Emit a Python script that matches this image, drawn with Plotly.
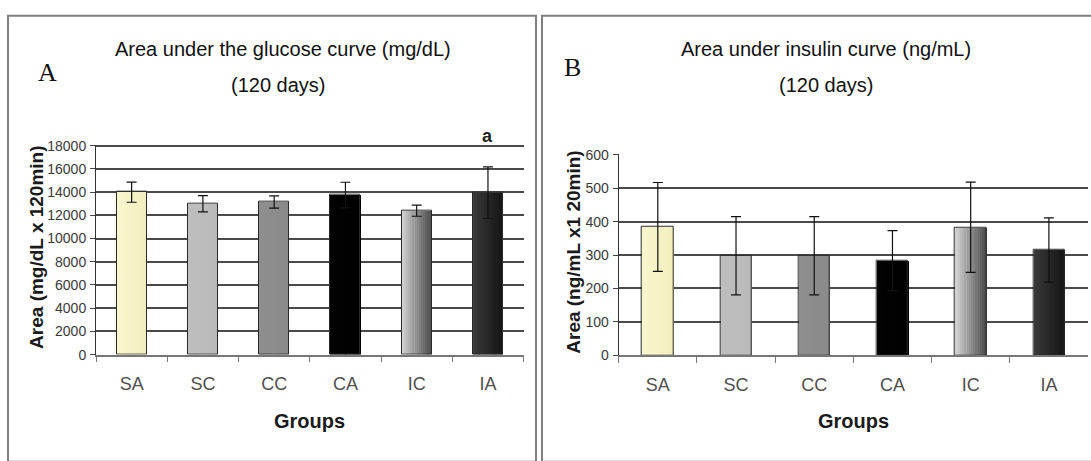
import plotly.graph_objects as go

# ---------------- data ----------------
groups = ["SA", "SC", "CC", "CA", "IC", "IA"]

glucose_auc = [14000, 13000, 13150, 13750, 12400, 13950]
glucose_err = [870, 700, 520, 1100, 480, 2220]

insulin_auc = [384, 298, 298, 283, 383, 315]
insulin_err = [133, 117, 117, 90, 135, 96]

glucose_ticks = [0, 2000, 4000, 6000, 8000, 10000, 12000, 14000, 16000, 18000]
glucose_ticktext = ["0", "2000", "4000", "6000", "8000", "10000", "12000", "14000", "16000", "18000"]
insulin_ticks = [0, 100, 200, 300, 400, 500, 600]
insulin_ticktext = ["0", "100", "200", "300", "400", "500", "600"]

# left / right colour of each bar (horizontal shading)
bar_left = ["#F8F6CE", "#BEBEBE", "#8E8E8E", "#030303", "#D4D4D4", "#3A3A3A"]
bar_right = ["#F2EFBE", "#BABABA", "#8A8A8A", "#000000", "#4A4A4A", "#141414"]

W, H = 1091, 461


def px_x(p):
    return p / W


def px_y(p):
    return 1 - p / H


def mix(c1, c2, t):
    a = [int(c1[i:i + 2], 16) for i in (1, 3, 5)]
    b = [int(c2[i:i + 2], 16) for i in (1, 3, 5)]
    return "#%02x%02x%02x" % tuple(round(a[k] + (b[k] - a[k]) * t) for k in range(3))


fig = go.Figure()

N = 14


def add_panel(values, errors, xa, ya, bw):
    for i in range(N):
        t = (i + 0.5) / N
        fig.add_trace(go.Bar(
            x=groups, y=values, xaxis=xa, yaxis=ya,
            width=bw / N * 1.08, offset=-bw / 2 + i * bw / N,
            marker=dict(color=[mix(l, r, t) for l, r in zip(bar_left, bar_right)],
                        line=dict(width=0)),
            showlegend=False, hoverinfo="skip"))
    fig.add_trace(go.Bar(
        x=groups, y=values, xaxis=xa, yaxis=ya,
        width=bw, offset=-bw / 2,
        marker=dict(color="rgba(0,0,0,0)", line=dict(color="#2a2a2a", width=1)),
        error_y=dict(type="data", array=errors, visible=True,
                     color="#111111", thickness=1.2, width=5),
        showlegend=False))


add_panel(glucose_auc, glucose_err, "x", "y", 0.42)
add_panel(insulin_auc, insulin_err, "x2", "y2", 0.40)

grid = "#4a4a4a"
tickfont_y = dict(family="Liberation Sans, Arial", size=14, color="#3a3a3a")
tickfont_x = dict(family="Liberation Sans, Arial", size=18, color="#505050")

common_x = dict(type="category", showgrid=False, showline=True, linecolor="#777777",
                linewidth=1.5, ticks="outside", tickson="boundaries", ticklen=6,
                tickcolor="#777777", tickfont=tickfont_x, ticklabelstandoff=12,
                zeroline=False)
common_y = dict(showgrid=True, gridcolor=grid, gridwidth=1.5, showline=True,
                linecolor="#333333", linewidth=1, ticks="outside", ticklen=5,
                tickcolor="#444444", tickfont=tickfont_y, zeroline=False,
                tickmode="array", ticklabelstandoff=1)

fig.update_layout(
    width=W, height=H, margin=dict(l=0, r=0, t=0, b=0),
    paper_bgcolor="white", plot_bgcolor="white",
    barmode="overlay", bargap=0,
    xaxis=dict(domain=[px_x(96), px_x(523.6)], anchor="y", **common_x),
    yaxis=dict(domain=[px_y(359.3), px_y(142.3)], anchor="x",
               range=[0, glucose_ticks[-1] * 1.005],
               tickvals=glucose_ticks, ticktext=glucose_ticktext, **common_y),
    xaxis2=dict(domain=[px_x(618.7), px_x(1088)], anchor="y2", **common_x),
    yaxis2=dict(domain=[px_y(360), px_y(151.7)], anchor="x2",
                range=[0, insulin_ticks[-1] * 1.005],
                tickvals=insulin_ticks, ticktext=insulin_ticktext, **common_y),
)

# panel frames
fig.add_shape(type="rect", xref="paper", yref="paper",
              x0=px_x(8), x1=px_x(536), y0=px_y(470), y1=px_y(9),
              line=dict(color="#808080", width=2), layer="below")
fig.add_shape(type="rect", xref="paper", yref="paper",
              x0=px_x(542), x1=px_x(1100), y0=px_y(470), y1=px_y(9),
              line=dict(color="#808080", width=2), layer="below")

title_font = dict(family="Liberation Sans, Arial", size=20, color="#111111")
bold_font = dict(family="Liberation Sans, Arial", size=20, color="#1a1a1a")
ytitle_font = dict(family="Liberation Sans, Arial", size=19, color="#1a1a1a")


def ann(text, x, y, font, **kw):
    fig.add_annotation(text=text, xref="paper", yref="paper", x=px_x(x), y=px_y(y),
                       showarrow=False, font=font, xanchor="center", yanchor="middle", **kw)


# titles
ann("Area under the glucose curve (mg/dL)", 283, 43, title_font)
ann("(120 days)", 278, 81, title_font)
ann("Area under insulin curve (ng/mL)", 826, 43, title_font)
ann("(120 days)", 826, 81, title_font)

# panel letters
letter_font = dict(family="Liberation Serif, Times New Roman", size=26, color="#111111")
ann("A", 47.5, 68, letter_font)
ann("B", 572.5, 63, letter_font)

# axis titles
ann("<b>Area (mg/dL x 120min)</b>", 37, 249, ytitle_font, textangle=-90)
ann("<b>Area (ng/mL x1 20min)</b>", 574, 254, ytitle_font, textangle=-90)
ann("<b>Groups</b>", (96 + 523.6) / 2, 428, bold_font)
ann("<b>Groups</b>", (618.7 + 1088) / 2, 428, bold_font)

# significance letter above IA in panel A
fig.add_annotation(text="<b>a</b>", xref="x", x="IA", yref="paper", y=px_y(133),
                   showarrow=False, font=dict(family="Liberation Sans, Arial", size=18,
                                              color="#222222"),
                   xanchor="center", yanchor="middle")

fig.write_html("out.html")
